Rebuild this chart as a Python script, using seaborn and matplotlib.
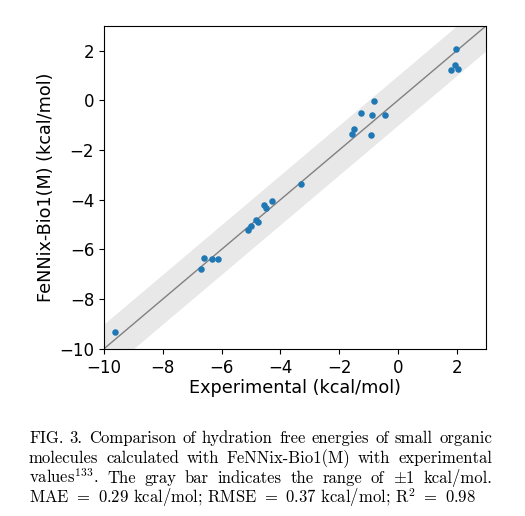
import numpy as np
import pandas as pd
import matplotlib
matplotlib.use("Agg")
import matplotlib.pyplot as plt
import seaborn as sns

# hydration free energies (kcal/mol)
experimental = [-9.62, -6.69, -6.61, -6.31, -6.12, -5.10, -4.99, -4.82, -4.76, -4.57, -4.50, -4.29,
                -3.30, -1.55, -1.51, -1.25, -0.90, -0.88, -0.81, -0.45, 1.81, 1.93, 1.97, 2.05]
predicted = [-9.32, -6.77, -6.33, -6.39, -6.37, -5.21, -5.04, -4.81, -4.88, -4.20, -4.32, -4.04,
             -3.35, -1.35, -1.16, -0.51, -1.39, -0.59, -0.01, -0.57, 1.21, 1.44, 2.08, 1.27]
axis_range = [-10, 3]
tick_values = [-10, -8, -6, -4, -2, 0, 2]

caption_lines = [
    "FIG. 3.  Comparison of hydration free energies of small organic",
    "molecules calculated with FeNNix-Bio1(M) with experimental",
    r"values$^{133}$.  The gray bar indicates the range of $\pm$1 kcal/mol.",
]
caption_last = r"MAE $=$ 0.29 kcal/mol; RMSE $=$ 0.37 kcal/mol; R$^2$ $=$ 0.98"

df = pd.DataFrame({"exp": experimental, "pred": predicted})

plt.rcParams["mathtext.fontset"] = "cm"

fig = plt.figure(figsize=(5.25, 5.16), dpi=100)
ax = fig.add_axes([0.198, 0.324, 0.728, 0.626])

band_x = np.array([axis_range[0] - 1, axis_range[1] + 1])
ax.fill_between(band_x, band_x - 1, band_x + 1, color="#e8e8e8", lw=0, zorder=0)
ax.axline((0, 0), slope=1, color="gray", lw=1, zorder=1)
sns.scatterplot(data=df, x="exp", y="pred", ax=ax, s=22, color="#1f77b4", linewidth=0, zorder=2)

ax.set_xlim(axis_range)
ax.set_ylim(axis_range)
ax.set_xticks(tick_values)
ax.set_yticks(tick_values)
ax.tick_params(labelsize=12)
ax.set_xlabel("Experimental (kcal/mol)", fontsize=12.7, labelpad=2)
ax.set_ylabel("FeNNix-Bio1(M) (kcal/mol)", fontsize=12.7, labelpad=3)

# caption, justified like the paper
W, H = 525, 516
x0, x1 = 29, 492
base_y = [443, 463, 483]
cap_size = 12
fig.canvas.draw()
renderer = fig.canvas.get_renderer()
for line, yb in zip(caption_lines, base_y):
    words = line.split()
    texts = [fig.text(0, 1 - yb / H, w, family="cmr10", fontsize=cap_size, va="baseline") for w in words]
    widths = [t.get_window_extent(renderer).width for t in texts]
    gap = (x1 - x0 - sum(widths)) / (len(words) - 1)
    xpos = x0
    for t, w in zip(texts, widths):
        t.set_x(xpos / W)
        xpos += w + gap
fig.text(x0 / W, 1 - 503 / H, caption_last, family="cmr10", fontsize=cap_size, va="baseline")

fig.savefig("out.png", dpi=100)
